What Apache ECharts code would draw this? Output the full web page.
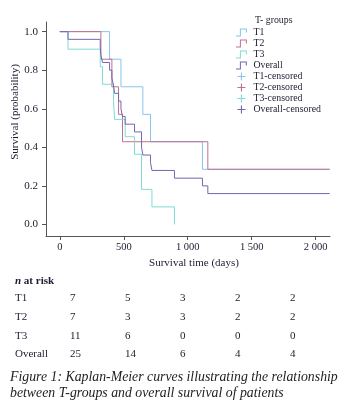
<!DOCTYPE html>
<html>
<head>
<meta charset="utf-8">
<script src="https://cdn.jsdelivr.net/npm/echarts@6/dist/echarts.min.js"></script>
<style>
  html, body { margin: 0; padding: 0; background: #fff; }
  #chart { width: 356px; height: 410px; }
</style>
</head>
<body>
<div id="chart"></div>
<script>
// step curves: event times (days) and survival after each step
var t1Times = [0, 389, 478, 649, 709, 1115, 2110];
var t1Surv = [1, 0.857, 0.714, 0.571, 0.429, 0.286, 0.286];
var t2Times = [0, 321, 407, 459, 490, 1157, 2110];
var t2Surv = [1, 0.857, 0.714, 0.571, 0.429, 0.286, 0.286];
var t3Times = [0, 64, 316, 334, 420, 428, 511, 584, 639, 720, 896];
var t3Surv = [1, 0.909, 0.818, 0.727, 0.636, 0.545, 0.455, 0.364, 0.182, 0.091, 0];
var allTimes = [0, 64, 316, 321, 334, 389, 407, 420, 428, 459, 478, 490, 511, 584, 639, 649, 709, 720, 896, 1115, 1157, 2110];
var allSurv = [1, 0.96, 0.92, 0.88, 0.84, 0.80, 0.76, 0.72, 0.68, 0.64, 0.60, 0.56, 0.52, 0.48, 0.40, 0.36, 0.32, 0.28, 0.24, 0.20, 0.16, 0.16];

var xTicks = [0, 500, 1000, 1500, 2000];
var yTicks = [0, 0.2, 0.4, 0.6, 0.8, 1.0];

// number at risk table
var riskGroups = ['T1', 'T2', 'T3', 'Overall'];
var riskT1 = [7, 5, 3, 2, 2];
var riskT2 = [7, 3, 3, 2, 2];
var riskT3 = [11, 6, 0, 0, 0];
var riskAll = [25, 14, 6, 4, 4];

var colors = { T1: '#86c5ec', T2: '#c0708f', T3: '#7fdcd0', Overall: '#7466b0' };
var serif = '"Liberation Serif", "DejaVu Serif", serif';
var ink = '#1c1c30';

var stepIcon = 'path://M0,9h5v-9h9v5h-1.3v-3.7h-6.4v9h-6.3z';
var plusIcon = 'path://M5.6,0h1.8v13h-1.8z M0,5.6h13v1.8h-13z';

function pairs(xs, ys) {
  return xs.map(function (x, i) { return [x, ys[i]]; });
}

function kmLine(name, xs, ys) {
  return {
    name: name,
    type: 'line',
    step: 'end',
    data: pairs(xs, ys),
    showSymbol: false,
    symbol: 'none',
    silent: true,
    lineStyle: { color: colors[name], width: 1 },
    itemStyle: { color: colors[name] },
    z: 2
  };
}

function censored(name, group) {
  return {
    name: name,
    type: 'scatter',
    data: [],
    symbol: plusIcon,
    symbolSize: 9,
    itemStyle: { color: colors[group], opacity: 1 }
  };
}

function legendItem(name, group, icon) {
  return { name: name, icon: icon, itemStyle: { color: colors[group], opacity: 1 } };
}

var chart = echarts.init(document.getElementById('chart'), null, { renderer: 'canvas' });

var graphics = [];
function addText(txt, x, y, opts) {
  var st = {
    text: txt, x: x, y: y,
    fontFamily: serif, fontSize: 11, fill: ink,
    textAlign: 'left', textVerticalAlign: 'middle'
  };
  for (var k in opts) st[k] = opts[k];
  graphics.push({ type: 'text', style: st, silent: true });
}

addText('T- groups', 255, 20, { fontSize: 9.8 });
// rotated y axis title
graphics.push({
  type: 'text', silent: true,
  x: 15, y: 112, rotation: Math.PI / 2,
  style: {
    text: 'Survival (probability)', x: 0, y: 0,
    fontFamily: serif, fontSize: 11, fill: ink,
    textAlign: 'center', textVerticalAlign: 'middle'
  }
});
addText('Survival time (days)', 194, 263, { textAlign: 'center', fontSize: 11 });

graphics.push({
  type: 'text', silent: true,
  style: {
    text: '{i|n} at risk', x: 15, y: 281,
    fontFamily: serif, fontSize: 11, fontWeight: 'bold', fill: ink,
    textVerticalAlign: 'middle',
    rich: { i: { fontFamily: serif, fontSize: 11, fontWeight: 'bold', fontStyle: 'italic', fill: ink } }
  }
});

var riskRows = [riskT1, riskT2, riskT3, riskAll];
var rowY = [298, 317, 336, 354];
var colX = [70, 125, 180, 235, 290];
riskRows.forEach(function (row, r) {
  addText(riskGroups[r], 15, rowY[r], {});
  row.forEach(function (v, c) {
    addText(String(v), colX[c], rowY[r], {});
  });
});

addText('Figure 1: Kaplan-Meier curves illustrating the relationship', 10, 377, { fontStyle: 'italic', fontSize: 13.8, fill: '#222' });
addText('between T-groups and overall survival of patients', 10, 393, { fontStyle: 'italic', fontSize: 13.8, fill: '#222' });

chart.setOption({
  animation: false,
  backgroundColor: '#fff',
  grid: { left: 46, right: 26, top: 22, bottom: 174, containLabel: false, outerBoundsMode: 'none' },
  xAxis: {
    type: 'value',
    min: -108,
    max: 2112,
    splitLine: { show: false },
    axisLine: { onZero: false, lineStyle: { color: '#555', width: 1 } },
    axisTick: { length: 4, customValues: xTicks, lineStyle: { color: '#555' } },
    axisLabel: {
      customValues: xTicks,
      margin: 6,
      fontFamily: serif,
      fontSize: 10.5,
      color: ink,
      formatter: function (v) {
        return String(v).replace(/\B(?=(\d{3})+(?!\d))/g, ' ');
      }
    }
  },
  yAxis: {
    type: 'value',
    min: -0.06,
    max: 1.05,
    splitLine: { show: false },
    axisLine: { show: true, onZero: false, lineStyle: { color: '#555', width: 1 } },
    axisTick: { show: true, length: 4, customValues: yTicks, lineStyle: { color: '#555' } },
    axisLabel: {
      customValues: yTicks,
      margin: 8,
      fontFamily: serif,
      fontSize: 11,
      color: ink,
      formatter: function (v) { return v.toFixed(1); }
    }
  },
  legend: {
    orient: 'vertical',
    left: 236,
    top: 27,
    padding: 0,
    itemWidth: 14,
    itemHeight: 8,
    itemGap: 0,
    selectedMode: false,
    textStyle: { fontFamily: serif, fontSize: 9.8, color: ink, lineHeight: 11 },
    data: [
      legendItem('T1', 'T1', stepIcon),
      legendItem('T2', 'T2', stepIcon),
      legendItem('T3', 'T3', stepIcon),
      legendItem('Overall', 'Overall', stepIcon),
      legendItem('T1-censored', 'T1', plusIcon),
      legendItem('T2-censored', 'T2', plusIcon),
      legendItem('T3-censored', 'T3', plusIcon),
      legendItem('Overall-censored', 'Overall', plusIcon)
    ]
  },
  graphic: graphics,
  series: [
    kmLine('T1', t1Times, t1Surv),
    kmLine('T2', t2Times, t2Surv),
    kmLine('T3', t3Times, t3Surv),
    kmLine('Overall', allTimes, allSurv),
    censored('T1-censored', 'T1'),
    censored('T2-censored', 'T2'),
    censored('T3-censored', 'T3'),
    censored('Overall-censored', 'Overall')
  ]
});
</script>
</body>
</html>
